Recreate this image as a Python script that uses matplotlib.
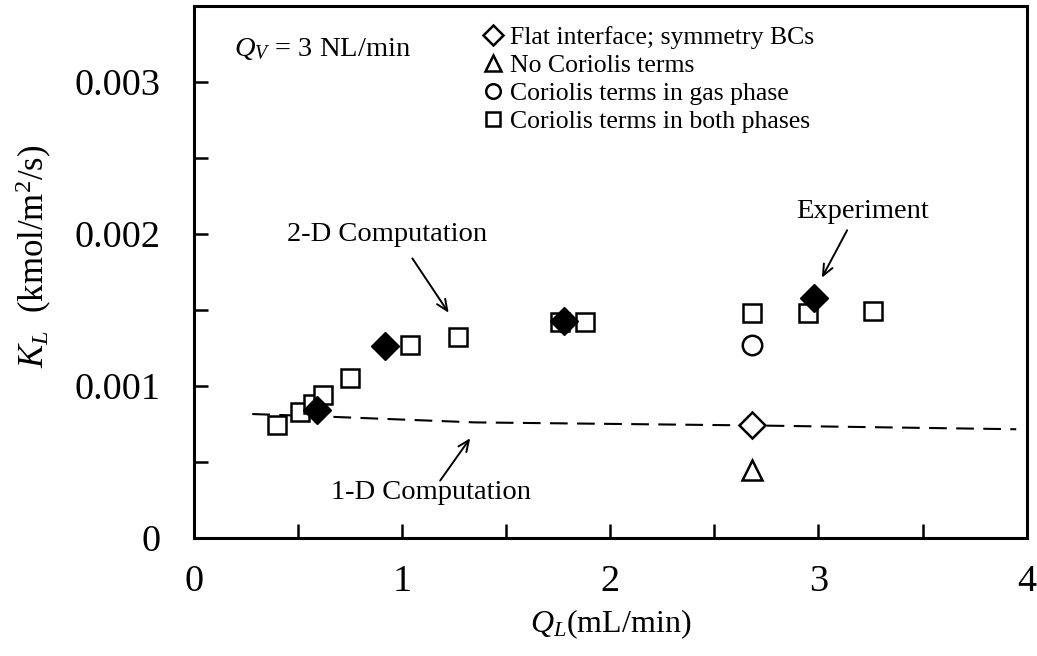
import numpy as np
import matplotlib
matplotlib.use("Agg")
import matplotlib.pyplot as plt

plt.rcParams['font.family'] = ['Liberation Serif', 'DejaVu Serif']
plt.rcParams['mathtext.fontset'] = 'custom'
plt.rcParams['mathtext.rm'] = 'Liberation Serif'
plt.rcParams['mathtext.it'] = 'Liberation Serif:italic'

# Coriolis terms in both phases (open squares)
sq_x = [0.40, 0.51, 0.57, 0.62, 0.75, 1.04, 1.27, 1.76, 1.88, 2.68, 2.95, 3.26]
sq_y = [0.00074, 0.00083, 0.00088, 0.00094, 0.00105, 0.00127, 0.00132,
        0.00142, 0.00142, 0.00148, 0.00148, 0.00149]
# experiment (filled diamonds)
exp_x = [0.59, 0.92, 1.78, 2.98]
exp_y = [0.00084, 0.00126, 0.00143, 0.00158]
# single runs at QL = 2.68
flat_x, flat_y = [2.68], [0.00074]
nocor_x, nocor_y = [2.68], [0.00045]
gas_x, gas_y = [2.68], [0.00127]
# 1-D computation (dashed)
line_x = [0.28, 0.6, 1.35, 2.68, 3.95]
line_y = [0.000815, 0.0008, 0.00076, 0.00074, 0.000715]

fig = plt.figure(figsize=(10.37, 6.56), dpi=100)
ax = fig.add_axes([0.187, 0.180, 0.803, 0.811])

ax.plot(line_x, line_y, color='black', lw=1.5, ls=(0, (8.5, 4.5)), zorder=1)

mk = dict(ls='none', mec='black', mew=1.8, zorder=3)
ax.plot(flat_x, flat_y, marker='D', ms=13, mfc='white',
        label='Flat interface; symmetry BCs', **mk)
ax.plot(nocor_x, nocor_y, marker='^', ms=15, mfc='white',
        label='No Coriolis terms', **mk)
ax.plot(gas_x, gas_y, marker='o', ms=14, mfc='white',
        label='Coriolis terms in gas phase', **mk)
ax.plot(sq_x, sq_y, marker='s', ms=13, mfc='white',
        label='Coriolis terms in both phases', **mk)
ax.plot(exp_x, exp_y, marker='D', ms=14, mfc='black', ls='none',
        mec='black', zorder=4)

ax.set_xlim(0, 4)
ax.set_ylim(0, 0.0035)
ax.set_xticks([0, 1, 2, 3, 4])
ax.set_xticks([0.5, 1.5, 2.5, 3.5], minor=True)
ax.set_yticks([0, 0.001, 0.002, 0.003])
ax.set_yticklabels(['0', '0.001', '0.002', '0.003'])
ax.set_yticks([0.0005, 0.0015, 0.0025], minor=True)
ax.tick_params(which='both', direction='in', length=10, width=1.8,
               top=False, right=False)
ax.tick_params(axis='y', which='major', labelsize=27.5, pad=24)
ax.tick_params(axis='x', which='major', labelsize=27.5, pad=19)
for s in ax.spines.values():
    s.set_linewidth(2.2)

ax.set_xlabel(r'$Q_L$(mL/min)', fontsize=23, labelpad=6)
ax.set_ylabel(r'$K_L$  (kmol/m$^2$/s)', fontsize=25)
ax.yaxis.set_label_coords(-0.168, 0.53)

ax.text(0.192, 0.003214, r'$Q_V$ = 3 NL/min', fontsize=20.5, va='center')

ax.legend(loc='upper left', bbox_to_anchor=(0.35, 0.962), frameon=False,
          fontsize=18.5, markerscale=0.75, handlelength=0.6,
          handletextpad=0.35, labelspacing=0.2, borderpad=0, borderaxespad=0)

arrow = dict(arrowstyle='->,head_length=0.8,head_width=0.35', color='black', lw=1.4)
ax.text(0.928, 0.001993, '2-D Computation', fontsize=20.5, ha='center', va='center')
ax.annotate('', xy=(1.231, 0.001466), xytext=(1.042, 0.001854), arrowprops=arrow)
ax.text(3.212, 0.00215, 'Experiment', fontsize=20.5, ha='center', va='center')
ax.annotate('', xy=(3.01, 0.0016955), xytext=(3.144, 0.00204), arrowprops=arrow)
ax.text(1.139, 0.000298, '1-D Computation', fontsize=20.5, ha='center', va='center')
ax.annotate('', xy=(1.335, 0.000671), xytext=(1.175, 0.000362), arrowprops=arrow)

fig.savefig('out.png', dpi=100)
